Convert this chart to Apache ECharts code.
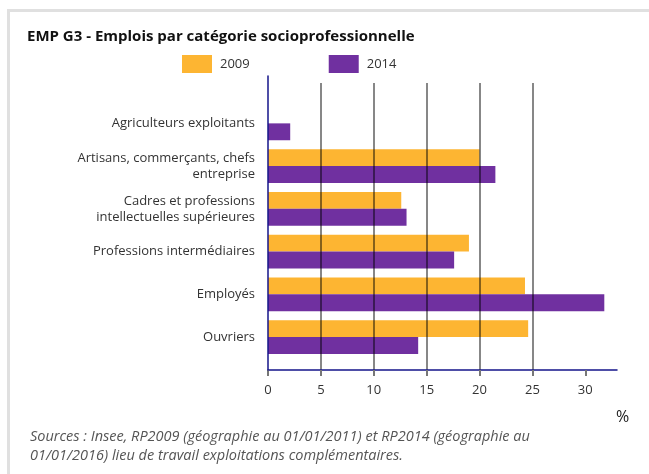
<!DOCTYPE html>
<html>
<head>
<meta charset="utf-8">
<script src="https://cdn.jsdelivr.net/npm/echarts@6/dist/echarts.min.js"></script>
<style>
html,body{margin:0;padding:0;background:#fff;}
#chart{width:649px;height:474px;}
</style>
</head>
<body>
<div id="chart"></div>
<script>
var categories = [
  "Agriculteurs exploitants",
  "Artisans, commerçants, chefs\nentreprise",
  "Cadres et professions\nintellectuelles supérieures",
  "Professions intermédiaires",
  "Employés",
  "Ouvriers"
];
var values2009 = [0, 20.0, 12.6, 19.0, 24.3, 24.6];
var values2014 = [2.1, 21.5, 13.1, 17.6, 31.8, 14.2];
var xTicks = [0, 5, 10, 15, 20, 25, 30];
var xMax = 33;

var FONT = "'Open Sans', sans-serif";
var chart = echarts.init(document.getElementById('chart'), null, {renderer: 'canvas'});

chart.setOption({
  animation: false,
  backgroundColor: '#fff',
  textStyle: {fontFamily: FONT},
  title: {
    text: 'EMP G3 - Emplois par catégorie socioprofessionnelle',
    left: 22, top: 22, padding: 5,
    textStyle: {fontFamily: FONT, fontSize: 15, fontWeight: 'bold', color: '#111', lineHeight: 20}
  },
  legend: {
    left: 177, top: 50,
    itemWidth: 30, itemHeight: 18, itemGap: 79,
    icon: 'rect',
    textStyle: {fontFamily: FONT, fontSize: 13, color: '#333', padding: [0,0,0,3]},
    data: ['2009', '2014']
  },
  graphic: [
    {type: 'rect', shape: {x: 7, y: 9, width: 642, height: 3}, style: {fill: '#e0e0e0'}, silent: true},
    {type: 'rect', shape: {x: 7, y: 9, width: 3, height: 465}, style: {fill: '#e0e0e0'}, silent: true},
    {type: 'text', left: 616, top: 409, style: {text: '%', font: '16px ' + FONT, fill: '#222'}},
    {type: 'text', left: 30, top: 427, style: {
      text: 'Sources : Insee, RP2009 (géographie au 01/01/2011) et RP2014 (géographie au\n01/01/2016) lieu de travail exploitations complémentaires.',
      font: 'italic 14.5px ' + FONT, fill: '#555', lineHeight: 19}}
  ],
  grid: [
    {left: 268, width: 349, top: 102, height: 256.4, containLabel: false},
    {left: 268, width: 349, top: 83, height: 287, containLabel: false},
    {left: 268, width: 349, top: 76, height: 294, containLabel: false}
  ],
  xAxis: [
    {gridIndex: 0, type: 'value', min: 0, max: xMax, show: false},
    {gridIndex: 1, type: 'value', min: 0, max: xMax, interval: 5, z: 10,
      axisLine: {show: true, lineStyle: {color: '#14148a', width: 1.5}},
      axisTick: {show: true, length: 6, customValues: xTicks, lineStyle: {color: '#777', width: 2}},
      axisLabel: {customValues: xTicks, fontFamily: FONT, fontSize: 13, color: '#333', margin: 14},
      splitLine: {show: true, showMinLine: false, showMaxLine: false, lineStyle: {color: 'rgba(0,0,0,0.47)', width: 2}}
    },
    {gridIndex: 2, type: 'value', min: 0, max: xMax, show: false}
  ],
  yAxis: [
    {gridIndex: 0, type: 'category', data: categories, inverse: true,
      axisLine: {show: false}, axisTick: {show: false},
      axisLabel: {fontFamily: FONT, fontSize: 13, color: '#333', margin: 13, lineHeight: 16, align: 'right'}
    },
    {gridIndex: 1, type: 'value', show: false},
    {gridIndex: 2, type: 'value', show: true, z: 11,
      axisLine: {show: true, lineStyle: {color: '#14148a', width: 1.5}},
      axisTick: {show: false}, axisLabel: {show: false}, splitLine: {show: false}
    }
  ],
  series: [
    {name: '2009', type: 'bar', xAxisIndex: 0, yAxisIndex: 0, data: values2009,
      itemStyle: {color: '#FDB532'}, barGap: '0%', barCategoryGap: '21%'},
    {name: '2014', type: 'bar', xAxisIndex: 0, yAxisIndex: 0, data: values2014,
      itemStyle: {color: '#7030A0'}, barGap: '0%', barCategoryGap: '21%'}
  ]
});
</script>
</body>
</html>
